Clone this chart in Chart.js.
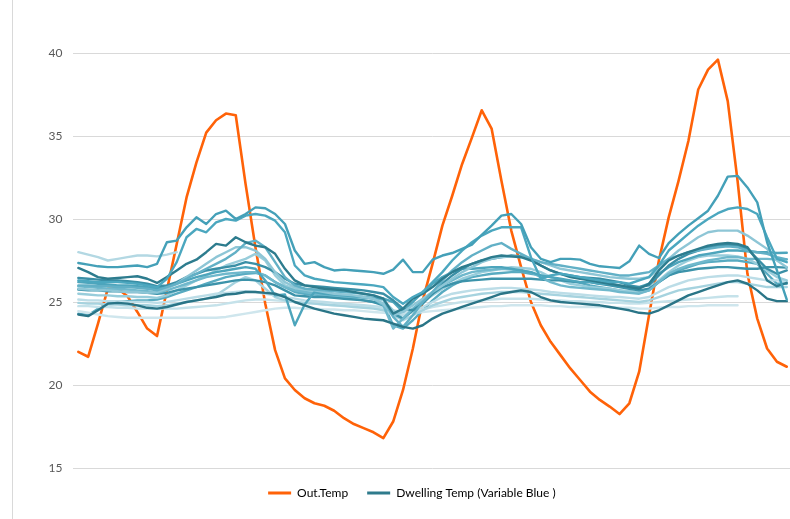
<!DOCTYPE html>
<html>
<head>
<meta charset="utf-8">
<title>Out.Temp vs Dwelling Temp</title>
<script src="https://cdn.jsdelivr.net/npm/chart.js@4"></script>
<style>
  html, body { margin: 0; padding: 0; background: #fff; overflow: hidden; }
  #wrap { position: relative; width: 790px; height: 519px; overflow: hidden; }
  #frame { position: absolute; left: 12px; top: 0; height: 519px; border-left: 1px solid #d9d9d9; }
  canvas { position: absolute; left: 0; top: 0; }
</style>
</head>
<body>
<div id="wrap">
  <div id="frame"></div>
  <canvas id="chart" width="796" height="519"></canvas>
</div>
<script>
// hourly samples, 3 days
const hours = [0,1,2,3,4,5,6,7,8,9,10,11,12,13,14,15,16,17,18,19,20,21,22,23,
  24,25,26,27,28,29,30,31,32,33,34,35,36,37,38,39,40,41,42,43,44,45,46,47,
  48,49,50,51,52,53,54,55,56,57,58,59,60,61,62,63,64,65,66,67,68,69,70,71,72];

const yTicks = [15, 20, 25, 30, 35, 40];

const outTemp = [22.0, 21.7, 23.7, 25.8, 25.8, 25.35, 24.4, 23.4, 22.95, 25.7,
  28.5, 31.3, 33.4, 35.2, 35.95, 36.35, 36.25, 32.1, 28.3, 24.9,
  22.1, 20.4, 19.7, 19.2, 18.9, 18.75, 18.45, 18.0, 17.65, 17.4,
  17.15, 16.8, 17.8, 19.7, 22.2, 25.1, 27.3, 29.6, 31.4, 33.3,
  34.9, 36.55, 35.45, 32.3, 29.3, 27.1, 25.0, 23.6, 22.6, 21.8,
  21.0, 20.3, 19.6, 19.1, 18.7, 18.25, 18.9, 20.8, 24.2, 27.5,
  30.1, 32.3, 34.7, 37.8, 39.0, 39.6, 37.1, 32.3, 26.7, 24.0,
  22.2, 21.4, 21.1];

const dwell01 = [27.35, 27.25, 27.15, 27.1, 27.1, 27.15, 27.2, 27.1, 27.3, 28.6,
  28.7, 29.5, 30.1, 29.7, 30.3, 30.5, 30.0, 30.3, 30.7, 30.65,
  30.3, 29.7, 28.1, 27.3, 27.4, 27.1, 26.9, 26.95, 26.9, 26.85,
  26.8, 26.7, 26.95, 27.55, 26.8, 26.8, 27.55, 27.8, 27.95, 28.2,
  28.45, 29.05, 29.6, 30.2, 30.3, 29.7, 28.3, 27.6, 27.4, 27.6,
  27.6, 27.55, 27.3, 27.15, 27.1, 27.05, 27.45, 28.4, 27.9, 27.65,
  28.55, 29.1, 29.6, 30.05, 30.5, 31.4, 32.55, 32.6, 31.9, 31.0,
  28.6, 26.9, 25.15];
const dwell02 = [26.3, 26.25, 26.2, 26.2, 26.2, 26.15, 26.1, 26.0, 25.9, 26.4,
  27.4, 28.9, 29.4, 29.2, 29.8, 30.0, 29.9, 30.2, 30.3, 30.2,
  29.9, 29.2, 27.2, 26.6, 26.4, 26.3, 26.2, 26.15, 26.1, 26.05,
  26.0, 25.9, 25.3, 24.9, 25.3, 25.6, 26.2, 26.8, 27.5, 28.1,
  28.6, 29.0, 29.3, 29.5, 29.5, 29.5, 27.7, 26.4, 26.6, 26.7,
  26.6, 26.5, 26.4, 26.3, 26.2, 26.2, 26.1, 26.3, 26.5, 27.2,
  28.1, 28.6, 29.1, 29.6, 30.0, 30.35, 30.6, 30.7, 30.6, 30.3,
  28.9, 27.6, 27.4];
const dwell03 = [27.05, 26.8, 26.5, 26.4, 26.45, 26.5, 26.55, 26.4, 26.15, 26.5,
  26.9, 27.3, 27.55, 28.0, 28.5, 28.4, 28.9, 28.6, 28.4, 28.3,
  27.9, 27.0, 26.3, 26.0, 25.9, 25.8, 25.75, 25.7, 25.6, 25.5,
  25.4, 25.2, 24.3, 24.6, 25.2, 25.5, 25.9, 26.4, 26.8, 27.1,
  27.3, 27.5, 27.7, 27.8, 27.75, 27.7, 27.5, 27.2, 26.9, 26.7,
  26.5, 26.4, 26.3, 26.2, 26.1, 26.0, 25.9, 25.8, 26.1, 26.9,
  27.5, 27.8, 28.0, 28.2, 28.4, 28.5, 28.55, 28.5, 28.3, 27.5,
  26.3, 25.95, 26.15];
const dwell04 = [24.25, 24.15, 24.5, 24.9, 24.95, 24.9, 24.8, 24.65, 24.6, 24.7,
  24.85, 25.0, 25.1, 25.2, 25.3, 25.45, 25.5, 25.6, 25.6, 25.55,
  25.5, 25.3, 25.0, 24.8, 24.6, 24.45, 24.3, 24.2, 24.1, 24.0,
  23.95, 23.9, 23.7, 23.5, 23.4, 23.6, 24.0, 24.3, 24.5, 24.7,
  24.9, 25.1, 25.3, 25.5, 25.6, 25.7, 25.6, 25.3, 25.1, 25.0,
  24.95, 24.9, 24.85, 24.8, 24.7, 24.6, 24.5, 24.35, 24.3, 24.5,
  24.8, 25.1, 25.4, 25.6, 25.8, 26.0, 26.2, 26.3, 26.1, 25.7,
  25.2, 25.05, 25.05];
const dwell05 = [28.0, 27.85, 27.7, 27.5, 27.6, 27.7, 27.8, 27.8, 27.75, 27.85,
  28.0, null, null, null, null, null, null, null, null, null,
  null, null, null, null, null, null, null, null, null, null,
  null, null, null, null, null, null, null, null, null, null,
  null, null, null, null, null, null, null, null, null, null,
  null, null, null, null, null, null, null, null, null, null,
  null, null, null, null, null, null, null, null, null, null,
  null, null, null];
const dwell06 = [26.0, 26.0, 25.95, 25.95, 25.9, 25.9, 25.85, 25.8, 25.7, 25.9,
  26.1, 26.4, 26.7, 27.0, 27.3, 27.6, 28.0, 28.55, 28.7, 28.3,
  27.4, 26.5, 26.0, 25.8, 25.75, 25.7, 25.65, 25.6, 25.55, 25.5,
  25.4, 25.2, 24.1, 23.5, 24.2, 25.0, 25.6, 26.3, 26.9, 27.4,
  27.8, 28.1, 28.4, 28.55, 28.2, 27.9, 27.6, 27.4, 27.3, 27.2,
  27.1, 27.0, 26.9, 26.8, 26.7, 26.6, 26.6, 26.7, 26.8, 27.2,
  27.6, 27.8, 28.0, 28.1, 28.2, 28.3, 28.35, 28.3, 28.1, 28.0,
  27.9, 27.7, 27.57];
const dwell07 = [25.8, 25.75, 25.7, 25.7, 25.65, 25.6, 25.6, 25.55, 25.6, 25.8,
  26.1, 26.5, 26.9, 27.3, 27.7, 28.0, 28.3, 28.3, 28.1, 27.6,
  26.8, 26.2, 25.9, 25.8, 25.7, 25.6, 25.5, 25.45, 25.4, 25.3,
  25.2, 24.9, 24.2, 24.4, 24.8, 25.2, 25.6, 26.0, 26.4, 26.8,
  27.1, 27.4, 27.6, 27.7, 27.75, 27.7, 27.6, 27.4, 27.2, 27.0,
  26.9, 26.8, 26.7, 26.6, 26.5, 26.45, 26.4, 26.4, 26.5, 27.0,
  27.6, 28.1, 28.5, 28.9, 29.2, 29.3, 29.3, 29.3, 29.0, 28.6,
  28.2, 27.5, 27.1];
const dwell08 = [26.45, 26.4, 26.35, 26.3, 26.3, 26.25, 26.2, 26.1, 25.95, 26.0,
  26.2, 26.5, 26.7, 26.9, 27.0, 27.1, 27.2, 27.4, 27.3, 27.1,
  26.8, 26.4, 26.1, 26.0, 25.95, 25.9, 25.85, 25.8, 25.75, 25.7,
  25.6, 25.5, 25.1, 24.6, 24.5, 24.9, 25.5, 26.1, 26.6, 27.0,
  27.3, 27.5, 27.6, 27.7, 27.8, 27.75, 27.6, 27.2, 26.9, 26.7,
  26.6, 26.5, 26.45, 26.4, 26.3, 26.2, 26.0, 25.9, 26.0, 26.6,
  27.2, 27.6, 27.9, 28.1, 28.3, 28.4, 28.45, 28.4, 28.2, 27.6,
  27.0, 26.7, 26.9];
const dwell09 = [26.2, 26.15, 26.1, 26.05, 26.0, 26.0, 25.95, 25.9, 25.8, 25.95,
  26.1, 26.3, 26.5, 26.65, 26.8, 26.9, 27.0, 27.1, 27.0, 26.3,
  25.4, 25.45, 23.6, 24.85, 25.6, 25.5, 25.45, 25.4, 25.35, 25.3,
  25.25, 25.2, 25.0, 24.4, 25.0, 25.6, 26.1, 26.5, 26.8, 27.0,
  27.0, 27.05, 27.1, 27.1, 27.0, 26.9, 26.8, 26.6, 26.5, 26.4,
  26.3, 26.2, 26.2, 26.1, 26.1, 26.0, 25.9, 25.9, 26.1, 26.7,
  27.1, 27.4, 27.6, 27.8, 27.9, 28.0, 28.1, 28.1, 28.05, 28.0,
  28.0, 27.95, 27.97];
const dwell10 = [25.95, 25.9, 25.85, 25.8, 25.8, 25.75, 25.7, 25.65, 25.55, 25.7,
  25.9, 26.1, 26.3, 26.5, 26.6, 26.7, 26.75, 26.8, 26.8, 26.6,
  26.2, 25.9, 25.7, 25.6, 25.5, 25.45, 25.4, 25.35, 25.3, 25.25,
  25.2, 24.8, 23.4, 24.0, 24.6, 25.1, 25.6, 26.0, 26.3, 26.6,
  26.8, 26.9, 26.95, 27.0, 26.95, 26.9, 26.8, 26.5, 26.2, 26.0,
  25.9, 25.85, 25.8, 25.75, 25.7, 25.6, 25.55, 25.5, 25.7, 26.2,
  26.7, 27.0, 27.2, 27.35, 27.5, 27.6, 27.7, 27.7, 27.6, 27.6,
  27.6, 27.55, 27.57];
const dwell11 = [25.75, 25.7, 25.7, 25.65, 25.65, 25.6, 25.6, 25.55, 25.5, 25.55,
  25.7, 25.8, 25.9, 26.0, 26.1, 26.2, 26.3, 26.35, 26.3, 26.2,
  26.0, 25.7, 25.4, 25.35, 25.3, 25.3, 25.25, 25.2, 25.15, 25.1,
  25.0, 24.8, 24.3, 24.0, 24.5, 25.0, 25.5, 25.9, 26.1, 26.25,
  26.3, 26.35, 26.4, 26.4, 26.4, 26.4, 26.4, 26.35, 26.3, 26.3,
  26.25, 26.2, 26.2, 26.1, 26.0, 25.9, 25.8, 25.7, 25.8, 26.2,
  26.6, 26.8, 26.9, 27.0, 27.05, 27.1, 27.1, 27.05, 27.0, 27.0,
  27.1, 27.1, 27.07];
const dwell12 = [25.5, 25.45, 25.4, 25.4, 25.35, 25.35, 25.3, 25.3, 25.25, 25.4,
  25.7, 26.0, 26.3, 26.6, 26.9, 27.2, 27.4, 27.6, 27.9, 27.5,
  26.6, 26.0, 25.8, 25.7, 25.6, 25.5, 25.45, 25.4, 25.35, 25.3,
  25.25, 25.1, 24.5, 24.0, 24.5, 25.0, 25.4, 25.8, 26.1, 26.4,
  26.6, 26.8, 26.9, 27.0, 27.1, 27.05, 27.0, 26.8, 26.5, 26.3,
  26.1, 26.0, 25.9, 25.85, 25.8, 25.7, 25.65, 25.6, 25.8, 26.3,
  26.8, 27.2, 27.5, 27.7, 27.8, 27.8, 27.8, 27.75, 27.6, 27.3,
  26.9, 26.5, 26.3];
const dwell13 = [25.15, 25.1, 25.1, 25.05, 25.05, 25.0, 25.0, 25.0, 24.95, 25.0,
  25.1, 25.2, 25.3, 25.4, 25.5, 25.55, 25.6, 25.65, 25.6, 25.5,
  25.4, 25.3, 25.2, 25.1, 25.05, 25.0, 24.95, 24.9, 24.85, 24.8,
  24.75, 24.7, 24.4, 24.2, 24.4, 24.7, 25.0, 25.3, 25.5, 25.6,
  25.7, 25.75, 25.8, 25.85, 25.85, 25.8, 25.75, 25.7, 25.6, 25.55,
  25.5, 25.45, 25.4, 25.35, 25.3, 25.3, 25.25, 25.2, 25.3, 25.6,
  25.9, 26.1, 26.3, 26.4, 26.5, 26.55, 26.6, 26.6, 26.5, 26.4,
  26.3, 26.3, 26.25];
const dwell14 = [24.95, 24.9, 24.9, 24.85, 24.85, 24.8, 24.8, 24.8, 24.75, 24.8,
  24.9, 25.0, 25.1, 25.2, 25.4, 25.8, 26.2, 26.5, 26.3, 25.8,
  25.3, 25.1, 25.0, 24.95, 24.9, 24.85, 24.8, 24.75, 24.7, 24.65,
  24.6, 24.5, 24.2, 23.9, 24.2, 24.5, 24.8, 25.0, 25.2, 25.3,
  25.4, 25.5, 25.55, 25.6, 25.6, 25.6, 25.55, 25.5, 25.45, 25.4,
  25.35, 25.3, 25.25, 25.2, 25.15, 25.1, 25.05, 25.0, 25.1, 25.3,
  25.5, 25.7, 25.8, 25.9, 26.0, 26.1, 26.2, 26.2, 26.1, 26.0,
  25.9, 25.9, 25.9];
const dwell15 = [24.75, 24.75, 24.7, 24.7, 24.65, 24.65, 24.6, 24.6, 24.6, 24.6,
  24.6, 24.65, 24.7, 24.75, 24.8, 24.9, 25.0, 25.1, 25.15, 25.15,
  25.1, 25.05, 25.0, 24.95, 24.9, 24.85, 24.8, 24.8, 24.75, 24.7,
  24.65, 24.6, 24.5, 24.4, 24.45, 24.55, 24.7, 24.8, 24.9, 25.0,
  25.05, 25.1, 25.15, 25.2, 25.2, 25.2, 25.2, 25.15, 25.1, 25.1,
  25.05, 25.05, 25.0, 25.0, 24.95, 24.95, 24.9, 24.9, 24.95, 25.0,
  25.05, 25.1, 25.15, 25.2, 25.25, 25.3, 25.35, 25.35, null, null,
  null, null, null];
const dwell16 = [24.45, 24.35, 24.25, 24.15, 24.1, 24.05, 24.05, 24.05, 24.05, 24.05,
  24.05, 24.05, 24.05, 24.05, 24.05, 24.1, 24.2, 24.3, 24.4, 24.5,
  24.6, 24.65, 24.65, 24.6, 24.6, 24.55, 24.55, 24.5, 24.5, 24.45,
  24.4, 24.35, 24.3, 24.3, 24.35, 24.4, 24.45, 24.5, 24.55, 24.6,
  24.65, 24.7, 24.75, 24.75, 24.8, 24.8, 24.8, 24.8, 24.75, 24.75,
  24.7, 24.7, 24.7, 24.7, 24.7, 24.65, 24.65, 24.6, 24.6, 24.65,
  24.7, 24.7, 24.75, 24.75, 24.8, 24.8, 24.8, 24.8, null, null,
  null, null, null];
const dwell17 = [24.3, 24.2, 24.6, 24.9, 25.0, 25.05, 25.1, 25.1, 25.15, 25.3,
  25.5, 25.7, 25.9, 26.1, 26.3, 26.5, 26.6, 26.7, 26.75, 26.6,
  26.2, 25.9, 25.6, 25.5, 25.45, 25.4, 25.3, 25.25, 25.2, 25.1,
  25.0, 24.9, 23.6, 23.4, 23.9, 24.5, 25.1, 25.6, 26.0, 26.3,
  26.5, 26.6, 26.7, 26.75, 26.8, 26.8, 26.7, 26.6, 26.5, 26.35,
  26.25, 26.15, 26.0, 25.9, 25.8, 25.7, 25.6, 25.55, 25.7, 26.2,
  26.6, 26.9, 27.1, 27.3, 27.4, 27.45, 27.5, 27.5, 27.4, 27.3,
  26.7, 26.1, 26.1];

const dwellSeries = [dwell01, dwell02, dwell03, dwell04, dwell05, dwell06, dwell07, dwell08, dwell09,
  dwell10, dwell11, dwell12, dwell13, dwell14, dwell15, dwell16, dwell17];
const dwellColors = ['#44A0B8', '#4BA7BF', '#2D7C8E', '#2A7587', '#B3D8E3', '#62B0C6', '#8EC6D6', '#3A8FA6', '#4DA5BC',
  '#6FB8CC', '#3C93AA', '#98CDDB', '#BCDDE7', '#A6D3DF', '#C5E2EA', '#CFE6ED', '#58ABC1'];

const outColor = '#FF6208';
const legendBlue = '#2E7B8C';
const textGrey = '#595959';

const datasets = [{
  label: 'Out.Temp',
  data: outTemp,
  borderColor: outColor,
  borderWidth: 2.6,
  order: 1
}];
dwellSeries.forEach((s, i) => {
  datasets.push({
    label: 'Dwelling ' + (i + 1),
    data: s,
    borderColor: dwellColors[i],
    borderWidth: 2.4,
    order: 0
  });
});

// nudge legend to where the original sits
const legendShift = {
  id: 'legendShift',
  afterLayout(chart) {
    if (chart.legend) {
      chart.legend.left += 16;
      chart.legend.right += 16;
    }
  }
};

new Chart(document.getElementById('chart'), {
  type: 'line',
  data: { labels: hours, datasets: datasets },
  options: {
    responsive: false,
    animation: false,
    devicePixelRatio: 1,
    layout: { padding: { top: 53, right: 4.3, bottom: 10, left: 0 } },
    elements: {
      point: { radius: 0 },
      line: { tension: 0, borderJoinStyle: 'round', borderCapStyle: 'round', fill: false }
    },
    scales: {
      x: { type: 'category', offset: true, display: false },
      y: {
        min: yTicks[0],
        max: yTicks[yTicks.length - 1],
        afterBuildTicks: scale => { scale.ticks = yTicks.map(v => ({ value: v })); },
        afterFit: scale => { scale.width = 73.4; },
        ticks: { padding: 11, color: textGrey, font: { family: 'Lato', size: 12 } },
        grid: { color: '#D9D9D9', lineWidth: 1, drawTicks: false },
        border: { display: false }
      }
    },
    plugins: {
      tooltip: { enabled: false },
      legend: {
        position: 'bottom',
        labels: {
          usePointStyle: true,
          pointStyleWidth: 23,
          padding: 19,
          color: textGrey,
          font: { family: 'Lato', size: 12 },
          generateLabels: () => [
            { text: 'Out.Temp', strokeStyle: outColor, fillStyle: outColor, lineWidth: 3, pointStyle: 'line', hidden: false, datasetIndex: 0 },
            { text: 'Dwelling Temp (Variable Blue )', strokeStyle: legendBlue, fillStyle: legendBlue, lineWidth: 3, pointStyle: 'line', hidden: false, datasetIndex: 1 }
          ]
        }
      }
    }
  },
  plugins: [legendShift]
});
</script>
</body>
</html>
